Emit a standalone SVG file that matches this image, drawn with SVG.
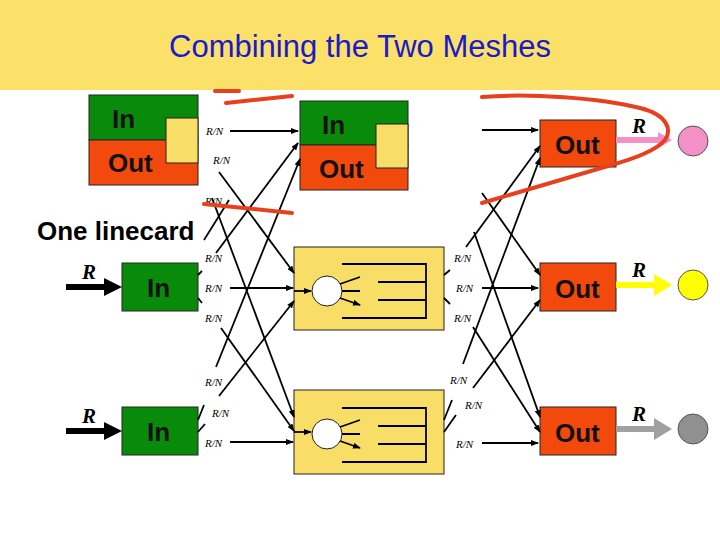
<svg xmlns="http://www.w3.org/2000/svg" width="720" height="540" viewBox="0 0 720 540">
<style>
.g{fill:#0A8A0A;stroke:#222;stroke-width:1}
.r{fill:#F24A0C;stroke:#222;stroke-width:1}
.y{fill:#F8DD66;stroke:#222;stroke-width:1}
.lab{font-family:"Liberation Sans",Arial,sans-serif;font-size:26px;font-weight:bold;fill:#111}
.rn{font-family:"Liberation Serif",serif;font-style:italic;font-size:11px;fill:#000}
.R{font-family:"Liberation Serif",serif;font-style:italic;font-weight:bold;font-size:21px;fill:#000}
.ln{stroke:#000;stroke-width:1.8;fill:none}
.an{stroke:#E8401C;stroke-width:4;fill:none;stroke-linecap:round}
</style>
<defs>
<marker id="a" markerWidth="8" markerHeight="6" refX="7" refY="3" orient="auto" markerUnits="userSpaceOnUse"><path d="M0,0L8,3L0,6z" fill="#000"/></marker>
</defs>
<rect x="0" y="0" width="720" height="90" fill="#FBE06A"/>
<text x="360" y="57" text-anchor="middle" font-family="Liberation Sans,Arial,sans-serif" font-size="31" fill="#1A1AC8">Combining the Two Meshes</text>

<g id="card-tl"><rect class="g" x="89" y="95" width="109" height="45"/><rect class="r" x="89" y="140" width="109" height="45"/><rect class="y" x="166" y="118" width="32" height="45"/><text class="lab" x="112" y="128">In</text><text class="lab" x="108" y="172">Out</text></g>
<g id="card-tm"><rect class="g" x="300" y="101" width="108" height="44"/><rect class="r" x="300" y="145" width="108" height="45"/><rect class="y" x="376" y="124" width="32" height="44"/><text class="lab" x="322" y="134">In</text><text class="lab" x="319" y="178">Out</text></g>
<text x="37" y="240" font-family="Liberation Sans,Arial,sans-serif" font-weight="bold" font-size="26">One linecard</text>

<g id="in-mid"><rect class="g" x="122" y="263" width="76" height="48"/><text class="lab" x="147" y="297">In</text></g>
<g id="in-bot"><rect class="g" x="122" y="407" width="76" height="48"/><text class="lab" x="147" y="441">In</text></g>

<g id="box-mid"><rect class="y" x="294" y="247" width="150" height="83"/><circle cx="327" cy="291" r="15" fill="#fff" stroke="#222"/><path class="ln" d="M342,264H426V318H342M378,282H426M378,300H426" stroke-width="1.3"/><path class="ln" d="M340,284L360,277M342,291H360M340,298L360,305" marker-end="url(#a)" stroke-width="2"/><path class="ln" d="M294,291H311" marker-end="url(#a)" stroke-width="2"/></g>
<g id="box-bot"><rect class="y" x="294" y="390" width="150" height="84"/><circle cx="327" cy="434" r="15" fill="#fff" stroke="#222"/><path class="ln" d="M342,408H426V462H342M378,426H426M378,444H426" stroke-width="1.3"/><path class="ln" d="M340,427L360,420M342,434H360M340,441L360,448" marker-end="url(#a)" stroke-width="2"/><path class="ln" d="M294,432H311" marker-end="url(#a)" stroke-width="2"/></g>

<g id="out-t"><rect class="r" x="540" y="120" width="76" height="47"/><text class="lab" x="555" y="154">Out</text></g>
<g id="out-m"><rect class="r" x="540" y="263" width="76" height="48"/><text class="lab" x="555" y="298">Out</text></g>
<g id="out-b"><rect class="r" x="540" y="407" width="76" height="48"/><text class="lab" x="555" y="442">Out</text></g>

<g id="dests">
<circle cx="693" cy="141" r="15" fill="#F490C8" stroke="#555"/>
<circle cx="693" cy="285" r="15" fill="#FFFF00" stroke="#555"/>
<circle cx="693" cy="429" r="15" fill="#909090" stroke="#555"/>
</g>

<g id="connectors">
<path d="M616,140H660" stroke="#F490C8" stroke-width="6"/><path d="M658,132L672,140L658,148z" fill="#F490C8"/>
<path d="M616,285H656" stroke="#FFFF00" stroke-width="6"/><path d="M654,274L672,285L654,296z" fill="#FFFF00"/>
<path d="M616,429H656" stroke="#A0A0A0" stroke-width="6"/><path d="M654,418L672,429L654,440z" fill="#A0A0A0"/>
<text class="R" x="632" y="133">R</text><text class="R" x="632" y="277">R</text><text class="R" x="632" y="421">R</text>
<path d="M66,287H106" stroke="#000" stroke-width="6"/><path d="M104,278L122,287L104,296z"/>
<path d="M66,431H106" stroke="#000" stroke-width="6"/><path d="M104,422L122,431L104,440z"/>
<text class="R" x="82" y="279">R</text><text class="R" x="82" y="423">R</text>

<path class="ln" d="M230,131H298" marker-end="url(#a)"/>
<path class="ln" d="M219,172L294,273" marker-end="url(#a)"/>
<path class="ln" d="M212,198L294,417" marker-end="url(#a)"/>
<path class="ln" d="M204,240L229,200" />
<path class="ln" d="M216,253L298,143" marker-end="url(#a)"/>
<path class="ln" d="M230,288H293" marker-end="url(#a)"/>
<path class="ln" d="M221,328L294,431" marker-end="url(#a)"/>
<path class="ln" d="M216,367L300,159" marker-end="url(#a)"/>
<path class="ln" d="M219,396L294,301" marker-end="url(#a)"/>
<path class="ln" d="M230,442H293" marker-end="url(#a)"/>
<path class="ln" d="M198,275L202,271M198,298L202,303M198,420L204,405M198,432L205,424"/>
<text class="rn" x="206" y="135">R/N</text><text class="rn" x="213" y="164">R/N</text><text class="rn" x="205" y="205">R/N</text>
<text class="rn" x="205" y="262">R/N</text><text class="rn" x="205" y="292">R/N</text><text class="rn" x="205" y="322">R/N</text>
<text class="rn" x="205" y="386">R/N</text><text class="rn" x="212" y="417">R/N</text><text class="rn" x="205" y="447">R/N</text>

<path class="ln" d="M482,130H538" marker-end="url(#a)"/>
<path class="ln" d="M482,193L540,275" marker-end="url(#a)"/>
<path class="ln" d="M474,232L540,417" marker-end="url(#a)"/>
<path class="ln" d="M466,247L540,146" marker-end="url(#a)"/>
<path class="ln" d="M482,288H538" marker-end="url(#a)"/>
<path class="ln" d="M473,327L540,432" marker-end="url(#a)"/>
<path class="ln" d="M463,364L540,158" marker-end="url(#a)"/>
<path class="ln" d="M473,388L540,300" marker-end="url(#a)"/>
<path class="ln" d="M482,443H538" marker-end="url(#a)"/>
<path class="ln" d="M444,275L450,270M444,298L450,304M444,420L452,400M444,432L456,415"/>
<text class="rn" x="454" y="262">R/N</text><text class="rn" x="456" y="292">R/N</text><text class="rn" x="454" y="322">R/N</text>
<text class="rn" x="450" y="384">R/N</text><text class="rn" x="465" y="409">R/N</text><text class="rn" x="456" y="448">R/N</text>
</g>

<g id="annotations">
<path class="an" d="M215,91H239"/>
<path class="an" d="M226,103L292,96"/>
<path class="an" d="M204,204L292,213"/>
<path class="an" d="M482,97C530,93 600,98 640,108C668,115 672,130 665,140C655,152 630,160 608,166C560,180 520,192 482,203"/>
</g>
</svg>
